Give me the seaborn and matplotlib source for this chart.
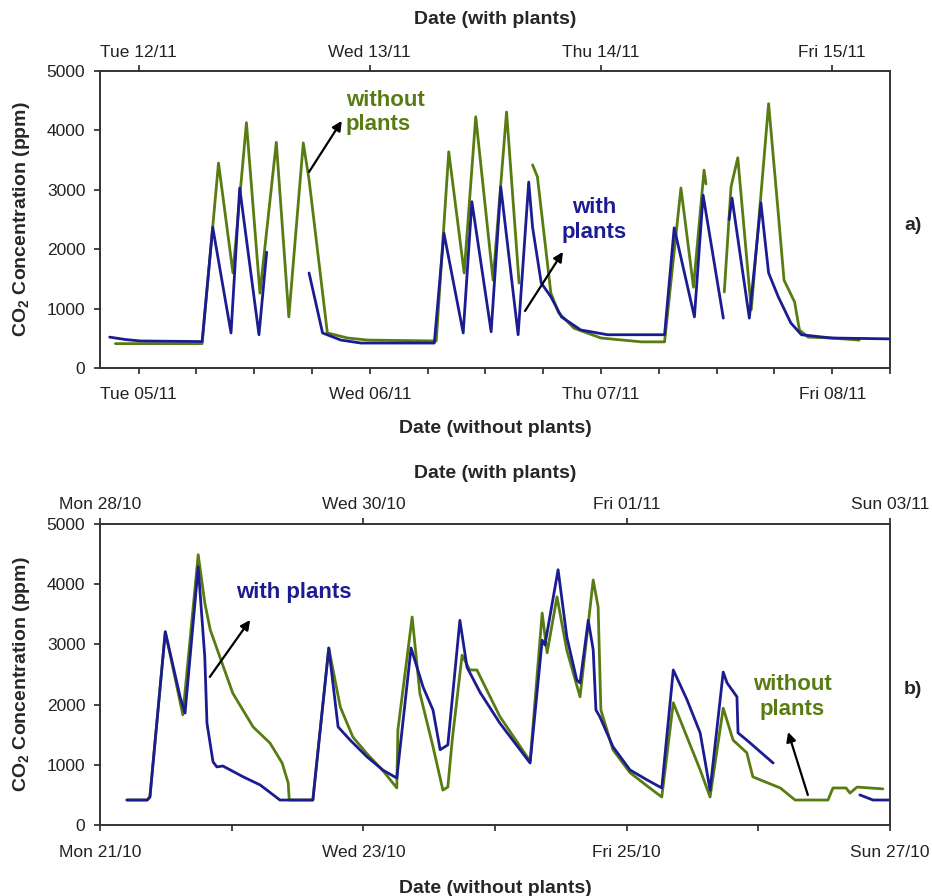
import numpy as np
import pandas as pd
import matplotlib
matplotlib.use("Agg")
import matplotlib.pyplot as plt
import matplotlib.dates as mdates
import seaborn as sns

nan = np.nan

# ---- panel a) : hours from Tue 05/11 00:00 (with plants: +7 days) ----
a_without_h = [-2.4, 6.6, 8.3, 9.8, 11.2, 12.6, 14.3, 15.6, 17.1, 17.7, 19.6, 21.7, 23.8, 30.9,
               32.2, 33.8, 35.0, 36.8, 38.2, 39.5, nan,
               40.9, 41.4, 42.8, 43.6, 45.2, 48.0, 52.2, 54.6, 56.3, 57.6, 58.7, 58.9, nan,
               60.8, 61.5, 62.2, 63.6, 65.4, 66.4, 67.0, 68.1, 68.6, 69.5, 71.9, 74.8]
a_without_ppm = [410, 410, 3450, 1600, 4130, 1260, 3800, 860, 3790, 3170, 590, 505, 470, 455,
                 3640, 1600, 4230, 1480, 4310, 1430, nan,
                 3420, 3220, 1260, 930, 670, 505, 440, 440, 3030, 1360, 3330, 3100, nan,
                 1280, 3050, 3540, 980, 4450, 2610, 1480, 1110, 640, 520, 505, 470]

a_with_h = [-3.0, -1.4, 0.2, 6.6, 7.7, 9.6, 10.5, 12.5, 13.3, nan,
            17.7, 19.1, 21.0, 23.1, 30.7, 31.7, 33.7, 34.6, 36.6, 37.6, 39.4, 40.5, 40.9, 41.8,
            42.8, 43.9, 45.9, 48.7, 54.6, 55.6, 57.7, 58.6, 60.7, nan,
            61.3, 61.6, 63.4, 64.6, 65.4, 66.4, 67.7, 68.8, 71.9, 78.1]
a_with_ppm = [520, 480, 455, 445, 2370, 590, 3030, 560, 1950, nan,
              1600, 590, 470, 420, 420, 2270, 590, 2800, 610, 3050, 560, 3130, 2370, 1430,
              1200, 860, 640, 560, 560, 2360, 860, 2910, 840, nan,
              2500, 2860, 840, 2780, 1600, 1200, 760, 560, 505, 490]

# ---- panel b) : hours from Mon 21/10 00:00 (with plants: +7 days) ----
b_without_h = [4.9, 8.6, 9.1, 11.9, 15.1, 17.9, 19.1, 20.1, 24.2, 27.9, 31.0, 33.2, 34.3, 34.5,
               38.8, 41.7, 43.8, 46.1, 48.7, 51.6, 54.1, 54.3, 56.9, 58.3, 60.7, 62.5, 63.4,
               64.2, 66.0, 67.4, 68.7, 72.9, 78.4, 80.6, 81.5, 83.3, 85.1, 87.5, 89.9, 90.8,
               91.3, 93.5, 96.6, 99.7, 102.4, 104.5, 107.0, 109.4, 111.2, 113.6, 115.4, 117.9,
               119.0, 124.0, 126.7, 132.7, 133.6, 136.0, 136.7, 138.0, 142.7]
b_without_ppm = [415, 415, 465, 3210, 1830, 4490, 3690, 3240, 2190, 1630, 1360, 1030, 700, 415,
                 415, 2940, 1960, 1460, 1180, 900, 615, 1580, 3455, 2190, 1300, 580, 630,
                 1410, 2820, 2575, 2575, 1800, 1060, 3520, 2860, 3790, 2900, 2130, 4070, 3620,
                 1910, 1250, 870, 650, 465, 2030, 1460, 915, 465, 1940, 1410, 1200,
                 800, 615, 415, 415, 615, 615, 530, 630, 600]

b_with_h = [4.9, 8.6, 9.1, 11.9, 14.6, 15.5, 17.9, 19.1, 19.5, 20.6, 21.3, 22.4, 26.1, 29.2,
            32.8, 38.8, 41.7, 43.4, 45.6, 48.7, 51.6, 54.1, 56.7, 58.9, 60.7, 62.0, 63.4, 65.6,
            66.9, 69.3, 72.9, 78.4, 80.6, 81.1, 83.5, 85.1, 86.9, 87.5, 89.0, 89.9, 90.4, 91.1,
            93.5, 96.6, 99.7, 102.4, 104.5, 107.0, 109.4, 111.2, 113.6, 114.3, 116.1, 116.3,
            117.9, 122.7, nan, 138.5, 140.9, 144.0]
b_with_ppm = [415, 415, 465, 3210, 2130, 1860, 4290, 2790, 1690, 1050, 965, 980, 800, 665,
              415, 415, 2940, 1630, 1410, 1130, 910, 780, 2940, 2290, 1910, 1250, 1330, 3400,
              2620, 2200, 1690, 1030, 3070, 2990, 4240, 3120, 2410, 2360, 3400, 2910, 1910, 1800,
              1300, 915, 750, 615, 2575, 2080, 1530, 580, 2540, 2360, 2130, 1530,
              1410, 1030, nan, 500, 415, 415]

GREEN = "#587c12"
BLUE = "#1c1c92"
palette = {"without plants": GREEN, "with plants": BLUE}


def trace(h, ppm, start, label):
    h = np.asarray(h, float)
    ppm = np.asarray(ppm, float)
    seg = np.cumsum(np.isnan(h))
    ok = ~np.isnan(h)
    return pd.DataFrame({
        "time": pd.Timestamp(start) + pd.to_timedelta(h[ok], unit="h"),
        "ppm": ppm[ok], "seg": seg[ok], "series": label})


df_a = pd.concat([trace(a_without_h, a_without_ppm, "2013-11-05", "without plants"),
                  trace(a_with_h, a_with_ppm, "2013-11-05", "with plants")])
df_b = pd.concat([trace(b_without_h, b_without_ppm, "2013-10-21", "without plants"),
                  trace(b_with_h, b_with_ppm, "2013-10-21", "with plants")])

sns.set_style("ticks")
plt.rcParams["font.family"] = ["Liberation Sans", "DejaVu Sans"]
plt.rcParams["mathtext.fontset"] = "custom"
plt.rcParams["mathtext.bf"] = "Liberation Sans:bold"
plt.rcParams["mathtext.rm"] = "Liberation Sans:bold"
plt.rcParams["mathtext.default"] = "bf"

fig = plt.figure(figsize=(9.32, 8.96), dpi=100)
ax_a = fig.add_axes([100 / 932, 1 - 368 / 896, 790 / 932, 297 / 896])
ax_b = fig.add_axes([100 / 932, 1 - 825 / 896, 790 / 932, 301 / 896])

for ax, df in [(ax_a, df_a), (ax_b, df_b)]:
    sns.lineplot(data=df, x="time", y="ppm", hue="series",
                 hue_order=["without plants", "with plants"], units="seg",
                 estimator=None, sort=False, palette=palette, linewidth=2.0,
                 legend=False, ax=ax)

fmt = mdates.DateFormatter("%a %d/%m")
week = pd.Timedelta(days=7)


def style(ax, lo, hi, major, minor, top_major, top_pad, bot_pad, top_lpad, bot_lpad):
    lo, hi = pd.Timestamp(lo), pd.Timestamp(hi)
    ax.set_xlim(lo, hi)
    ax.set_ylim(0, 5000)
    ax.set_yticks(range(0, 5001, 1000))
    ax.set_xticks(major)
    ax.set_xticks(minor, minor=True)
    ax.xaxis.set_major_formatter(fmt)
    ax.tick_params(which="both", direction="out", length=4.5, width=1.2,
                   labelsize=12.5, labelcolor="#222222")
    ax.tick_params(axis="x", pad=bot_pad)
    ax.tick_params(axis="y", pad=6)
    ax.set_xlabel("Date (without plants)", fontsize=14, fontweight="bold", labelpad=bot_lpad)
    ax.set_ylabel("CO$_2$ Concentration (ppm)", fontsize=14, fontweight="bold")
    ax.yaxis.set_label_coords(-0.086, 0.5)
    for s in ax.spines.values():
        s.set_linewidth(1.2)
        s.set_color("#333333")

    top = ax.twiny()
    top.set_xlim(lo + week, hi + week)
    top.set_xticks(top_major)
    top.xaxis.set_major_formatter(fmt)
    top.tick_params(direction="out", length=4.5, width=1.2, labelsize=12.5,
                    labelcolor="#222222", pad=top_pad)
    top.set_xlabel("Date (with plants)", fontsize=14, fontweight="bold", labelpad=top_lpad)
    for s in top.spines.values():
        s.set_linewidth(1.2)
        s.set_color("#333333")


style(ax_a, "2013-11-04 20:00", "2013-11-08 06:00",
      pd.date_range("2013-11-05", "2013-11-08", freq="D"),
      pd.date_range("2013-11-05 00:00", "2013-11-08 06:00", freq="6h"),
      pd.date_range("2013-11-12", "2013-11-15", freq="D"),
      top_pad=3.5, bot_pad=9, top_lpad=15, bot_lpad=13)
style(ax_b, "2013-10-21", "2013-10-27",
      pd.date_range("2013-10-21", "2013-10-27", freq="2D"),
      pd.date_range("2013-10-21", "2013-10-27", freq="D"),
      pd.date_range("2013-10-28", "2013-11-03", freq="2D"),
      top_pad=4, bot_pad=10, top_lpad=14, bot_lpad=14)

arrow = dict(arrowstyle="-|>", color="black", lw=1.6, mutation_scale=14, shrinkA=0, shrinkB=0)
txt = dict(fontsize=16, fontweight="bold")

# panel a labels
ax_a.text(0.311, 0.859, "without\nplants", color=GREEN, ha="left", va="center",
          transform=ax_a.transAxes, linespacing=1.2, **txt)
ax_a.annotate("", xy=(0.306, 0.832), xytext=(0.2646, 0.660), xycoords="axes fraction",
              arrowprops=arrow)
ax_a.text(0.625, 0.498, "with\nplants", color=BLUE, ha="center", va="center",
          transform=ax_a.transAxes, linespacing=1.2, **txt)
ax_a.annotate("", xy=(0.586, 0.391), xytext=(0.538, 0.192), xycoords="axes fraction",
              arrowprops=arrow)

# panel b labels
ax_b.text(0.2456, 0.774, "with plants", color=BLUE, ha="center", va="center",
          transform=ax_b.transAxes, **txt)
ax_b.annotate("", xy=(0.190, 0.681), xytext=(0.139, 0.492), xycoords="axes fraction",
              arrowprops=arrow)
ax_b.text(0.876, 0.425, "without\nplants", color=GREEN, ha="center", va="center",
          transform=ax_b.transAxes, linespacing=1.2, **txt)
ax_b.annotate("", xy=(0.871, 0.309), xytext=(0.896, 0.0997), xycoords="axes fraction",
              arrowprops=arrow)

fig.text(913 / 932, 1 - 226 / 896, "a)", fontsize=14, fontweight="bold", ha="center", va="center")
fig.text(913 / 932, 1 - 689 / 896, "b)", fontsize=14, fontweight="bold", ha="center", va="center")

fig.savefig("out.png", dpi=100, facecolor="white")
